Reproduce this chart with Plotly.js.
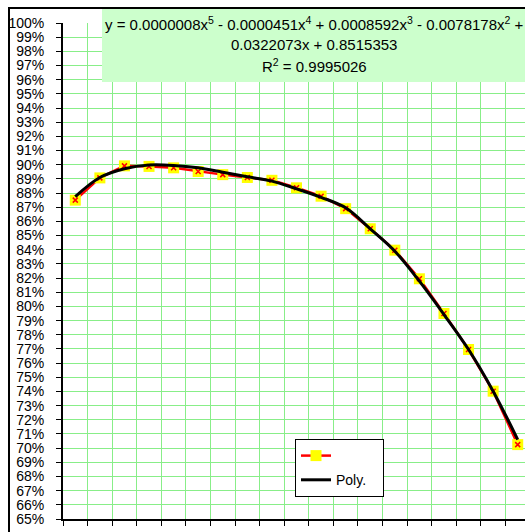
<!DOCTYPE html>
<html>
<head>
<meta charset="utf-8">
<script src="https://cdn.plot.ly/plotly-3.0.1.min.js"></script>
<style>
html,body{margin:0;padding:0;overflow:hidden;background:#fff;}
#chart{width:560px;height:570px;}
</style>
</head>
<body>
<div id="chart"></div>
<script>
// Category positions (1..19)
const categories = [1,2,3,4,5,6,7,8,9,10,11,12,13,14,15,16,17,18,19];
// Measured values (fractions)
const measured = [0.875,0.8907,0.8992,0.8988,0.8978,0.8952,0.8930,0.8910,0.8890,0.8837,0.8778,0.8690,0.8548,0.8397,0.8195,0.7950,0.7696,0.7402,0.7025];
// Poly trendline
const trendVals = [0.8775,0.8910,0.8972,0.8998,0.8995,0.8978,0.8947,0.8915,0.8884,0.8830,0.8770,0.8696,0.8548,0.8390,0.8178,0.7943,0.7696,0.7402,0.7060];
// Trendline label lines
const eqLines = [
  "y = 0.0000008x<sup>5</sup> - 0.0000451x<sup>4</sup> + 0.0008592x<sup>3</sup> - 0.0078178x<sup>2</sup> +",
  "0.0322073x + 0.8515353",
  "R<sup>2</sup> = 0.9995026"
];
const legendNames = [" ", "Poly.\u00a0\u00a0\u00a0"];

const W = 560, H = 570, L = 63, R = 30, T = 23, B = 51;
const pw = W - L - R, ph = H - T - B;
const px = v => (v - L) / pw;
const py = v => 1 - (v - T) / ph;

const FONT = "Arial, 'Liberation Sans', sans-serif";

const traces = [
  {
    x: categories, y: measured, type: "scatter", mode: "lines+markers",
    name: legendNames[0], legendgroup: "a",
    line: {color: "#ff0000", width: 2.5},
    marker: {symbol: "square", size: 11, color: "#ffff00", line: {width: 0}}
  },
  {
    x: categories, y: measured, type: "scatter", mode: "markers",
    showlegend: false, hoverinfo: "skip",
    marker: {symbol: "x-thin", size: 5, color: "#ff0000", line: {color: "#ff0000", width: 1.5}}
  },
  {
    x: categories, y: trendVals, type: "scatter", mode: "lines",
    name: legendNames[1], legendgroup: "b",
    line: {color: "#000000", width: 3, shape: "spline", smoothing: 1}
  }
];

const eqCenterX = px(314);
const eqYs = [23, 44, 65];
const annotations = eqLines.map((t, i) => ({
  xref: "paper", yref: "paper", x: eqCenterX, y: py(eqYs[i]),
  xanchor: "center", yanchor: "middle", showarrow: false,
  text: t, font: {family: FONT, size: 15, color: "#000"}
}));

const layout = {
  width: W, height: H,
  margin: {l: L, r: R, t: T, b: B, pad: 0},
  paper_bgcolor: "#ffffff", plot_bgcolor: "#ffffff",
  font: {family: FONT, size: 14, color: "#000"},
  showlegend: true,
  legend: {
    x: px(295), y: py(439), xanchor: "left", yanchor: "top",
    bgcolor: "#ffffff", bordercolor: "#000000", borderwidth: 1,
    font: {family: FONT, size: 14, color: "#000"},
    traceorder: "grouped", tracegroupgap: 3
  },
  xaxis: {
    range: [0.5, 19.5], tick0: 0.5, dtick: 1,
    showticklabels: false, ticks: "outside", ticklen: 5, tickcolor: "#000", tickwidth: 1,
    showline: true, linecolor: "#000", linewidth: 2,
    showgrid: true, gridcolor: "#88ee88", gridwidth: 1,
    zeroline: false, fixedrange: true
  },
  yaxis: {
    range: [0.65, 1.0], tick0: 0.65, dtick: 0.01, tickformat: ".0%",
    ticks: "outside", ticklen: 5, tickcolor: "#000", tickwidth: 1,
    ticklabelstandoff: 9,
    showline: true, linecolor: "#000", linewidth: 2,
    showgrid: true, gridcolor: "#88ee88", gridwidth: 1,
    zeroline: false, fixedrange: true,
    tickfont: {family: FONT, size: 14, color: "#000"}
  },
  shapes: [
    {type: "rect", xref: "paper", yref: "paper", layer: "above",
     x0: px(102), x1: 1.3, y0: py(82), y1: py(8),
     fillcolor: "#ccffcc", line: {width: 0}},
    {type: "rect", xref: "paper", yref: "paper", layer: "above",
     x0: px(9), x1: 1.3, y0: -0.3, y1: py(8),
     fillcolor: "rgba(0,0,0,0)", line: {color: "#000", width: 2}}
  ],
  annotations: annotations
};

Plotly.newPlot("chart", traces, layout, {displayModeBar: false, staticPlot: true});
</script>
</body>
</html>
